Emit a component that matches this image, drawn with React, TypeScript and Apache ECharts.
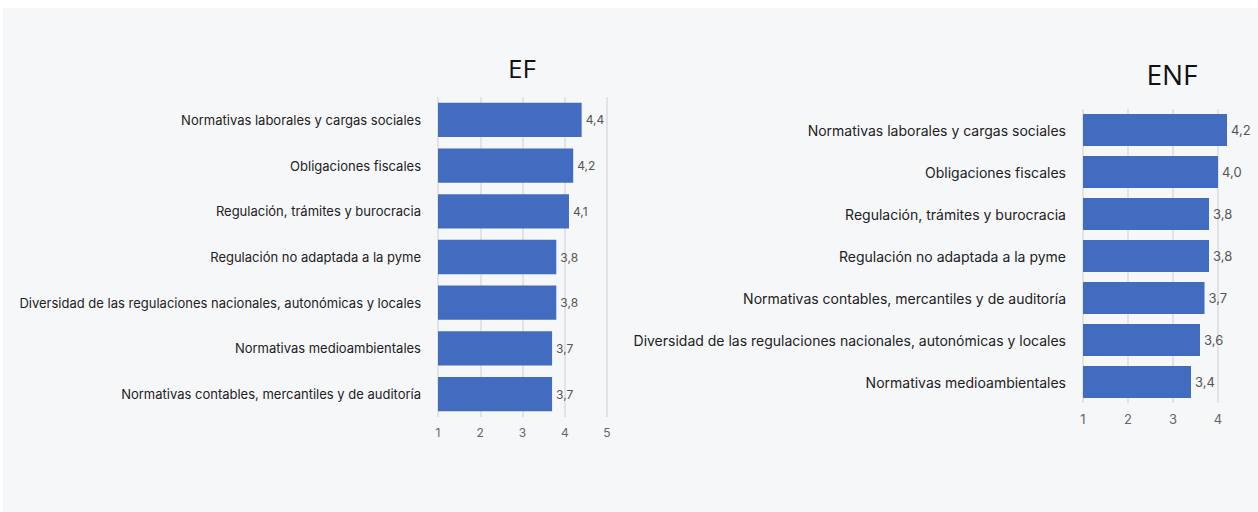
import React, { useEffect, useRef } from "react";
import * as echarts from "echarts";

const efCategories = [
  "Normativas laborales y cargas sociales",
  "Obligaciones fiscales",
  "Regulación, trámites y burocracia",
  "Regulación no adaptada a la pyme",
  "Diversidad de las regulaciones nacionales, autonómicas y locales",
  "Normativas medioambientales",
  "Normativas contables, mercantiles y de auditoría",
];
const efValues = [4.4, 4.2, 4.1, 3.8, 3.8, 3.7, 3.7];

const enfCategories = [
  "Normativas laborales y cargas sociales",
  "Obligaciones fiscales",
  "Regulación, trámites y burocracia",
  "Regulación no adaptada a la pyme",
  "Normativas contables, mercantiles y de auditoría",
  "Diversidad de las regulaciones nacionales, autonómicas y locales",
  "Normativas medioambientales",
];
const enfValues = [4.2, 4.0, 3.8, 3.8, 3.7, 3.6, 3.4];

const efRange = [1, 5];
const enfRange = [1, 4.25];
const enfGridTicks = [1, 2, 3, 4];

const BAR = "#416CC0";
const GRID = "#dcdde0";
const FONT = "Inter, 'Noto Sans', sans-serif";
const fmt = (v: number) => v.toFixed(1).replace(".", ",");

export default function App() {
  const ref = useRef<HTMLDivElement>(null);
  useEffect(() => {
    if (!ref.current) return;
    const chart = echarts.init(ref.current, null, { renderer: "svg" });
    const xAxisBase = (min: number, max: number, gridIndex: number, fs: number, split: boolean) => ({
      type: "value",
      gridIndex,
      min,
      max,
      interval: 1,
      axisLine: { show: false },
      axisTick: { show: false },
      splitLine: { show: split, lineStyle: { color: GRID, width: 1.5 } },
      axisLabel: {
        color: "#666",
        fontSize: fs,
        fontFamily: FONT,
        margin: 9,
        showMaxLabel: split,
      },
    });
    const yAxisBase = (data: string[], gridIndex: number, fs: number) => ({
      type: "category",
      gridIndex,
      data,
      inverse: true,
      axisLine: { show: false },
      axisTick: { show: false },
      splitLine: { show: false },
      axisLabel: { color: "#222", fontSize: fs, fontFamily: FONT, margin: 17 },
    });
    chart.setOption({
      animation: false,
      backgroundColor: "#ffffff",
      graphic: [
        {
          type: "rect",
          shape: { x: 3, y: 8, width: 1255, height: 504 },
          style: { fill: "#f6f7f9" },
          z: -10,
          silent: true,
        },
        {
          type: "text",
          x: 522,
          y: 68,
          style: {
            text: "EF",
            fontSize: 26,
            fontFamily: "'Open Sans', sans-serif",
            fill: "#111",
            align: "center",
            verticalAlign: "middle",
          },
        },
        {
          type: "text",
          x: 1172,
          y: 74,
          style: {
            text: "ENF",
            fontSize: 28,
            fontFamily: "'Open Sans', sans-serif",
            fill: "#111",
            align: "center",
            verticalAlign: "middle",
          },
        },
      ],
      grid: [
        { left: 438, width: 607 - 438, top: 97, height: 320 },
        { left: 1083, width: 1218 - 1083 + 0.25 * 45, top: 109, height: 294 },
      ],
      xAxis: [
        xAxisBase(efRange[0], efRange[1], 0, 12, true),
        xAxisBase(enfRange[0], enfRange[1], 1, 13, false),
      ],
      yAxis: [yAxisBase(efCategories, 0, 13), yAxisBase(enfCategories, 1, 14)],
      series: [
        {
          type: "bar",
          xAxisIndex: 0,
          yAxisIndex: 0,
          data: efValues,
          barWidth: "75%",
          itemStyle: { color: BAR },
          label: {
            show: true,
            position: "right",
            distance: 4,
            color: "#555",
            fontSize: 12,
            fontFamily: FONT,
            formatter: (p: any) => fmt(p.value),
          },
        },
        {
          type: "bar",
          xAxisIndex: 1,
          yAxisIndex: 1,
          data: enfValues,
          barWidth: "76%",
          itemStyle: { color: BAR },
          label: {
            show: true,
            position: "right",
            distance: 4,
            color: "#555",
            fontSize: 13,
            fontFamily: FONT,
            formatter: (p: any) => fmt(p.value),
          },
          markLine: {
            silent: true,
            symbol: "none",
            label: { show: false },
            z: 0,
            lineStyle: { color: GRID, width: 1.5, type: "solid" },
            data: enfGridTicks.map((t) => ({ xAxis: t })),
          },
        },
      ],
    });
    return () => chart.dispose();
  }, []);
  return (
    <div
      ref={ref}
      style={{ position: "fixed", left: 0, top: 0, width: 1258, height: 512 }}
    />
  );
}
